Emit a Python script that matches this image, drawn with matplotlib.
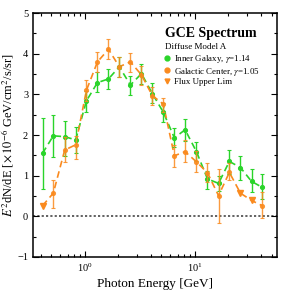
import matplotlib
matplotlib.use("Agg")
import matplotlib.pyplot as plt
import numpy as np
from matplotlib.lines import Line2D
from matplotlib.ticker import MultipleLocator

plt.rcParams["font.family"] = ["Liberation Serif", "DejaVu Serif"]
plt.rcParams["mathtext.fontset"] = "stix"

# photon energy bin centres [GeV]
energy = [0.415, 0.52, 0.66, 0.83, 1.04, 1.31, 1.65, 2.07, 2.61, 3.29, 4.13,
          5.2, 6.55, 8.2, 10.4, 13.1, 16.5, 20.7, 26.1, 32.9, 41.3]

# Inner Galaxy, gamma=1.14
ig_val = [1.55, 1.98, 1.96, 1.88, 2.84, 3.29, 3.38, 3.68, 3.23, 3.51, 3.02,
          2.56, 1.93, 2.13, 1.59, 0.92, 0.81, 1.35, 1.20, 0.86, 0.71]
ig_lo = [0.66, 1.45, 1.49, 1.56, 2.57, 3.05, 3.13, 3.43, 2.99, 3.25, 2.80,
         2.33, 1.70, 1.86, 1.37, 0.66, 0.62, 1.04, 0.89, 0.59, 0.43]
ig_hi = [2.42, 2.50, 2.35, 2.20, 3.09, 3.56, 3.62, 3.92, 3.46, 3.74, 3.29,
         2.80, 2.17, 2.39, 1.82, 1.12, 1.00, 1.64, 1.49, 1.16, 1.04]

# Galactic Center, gamma=1.05 (upper limits flagged)
gc_val = [0.26, 0.57, 1.63, 1.76, 3.10, 3.80, 4.11, 3.68, 3.80, 3.48, 2.97,
          2.76, 1.49, 1.59, 1.34, 1.07, 0.51, 1.08, 0.57, 0.39, 0.26]
gc_lo = [0.26, 0.21, 1.33, 1.41, 2.84, 3.56, 3.87, 3.43, 3.56, 3.23, 2.74,
         2.56, 1.22, 1.33, 1.08, 0.84, -0.17, 0.89, 0.57, 0.39, -0.04]
gc_hi = [0.26, 0.90, 1.96, 1.98, 3.36, 4.05, 4.36, 3.92, 4.03, 3.70, 3.19,
         2.92, 1.76, 1.88, 1.60, 1.31, 1.16, 1.30, 0.57, 0.39, 0.59]
gc_ul = [True, False, False, False, False, False, False, False, False, False, False,
         False, False, False, False, False, False, False, True, True, False]

GREEN = "#2ad42a"
ORANGE = "#fa8a1e"

e = np.array(energy)
ig = np.array(ig_val)
gc = np.array(gc_val)
ul = np.array(gc_ul)

fig = plt.figure(figsize=(2.82, 2.91), dpi=100)
ax = fig.add_axes([0.117, 0.117, 0.865, 0.838])

# dashed connecting lines
ax.plot(e, ig, ls=(0, (4, 2.5)), color=GREEN, lw=1.2, zorder=2)
ax.plot(e, gc, ls=(0, (4, 2.5)), color=ORANGE, lw=1.2, zorder=3)

# error bars
ax.errorbar(e, ig, yerr=[ig - np.array(ig_lo), np.array(ig_hi) - ig], fmt="o",
            ms=2.7, color=GREEN, ecolor=GREEN, elinewidth=1.0, capsize=1.6,
            capthick=0.8, zorder=4)
det = ~ul
ax.errorbar(e[det], gc[det], yerr=[gc[det] - np.array(gc_lo)[det], np.array(gc_hi)[det] - gc[det]],
            fmt="o", ms=2.7, color=ORANGE, ecolor=ORANGE, elinewidth=1.0, capsize=1.6,
            capthick=0.8, alpha=0.85, zorder=5)
ax.plot(e[ul], gc[ul], "v", ms=4.5, color=ORANGE, zorder=5)

ax.axhline(0, color="#555555", ls=(0, (1.2, 1.2)), lw=1.3, zorder=1)

ax.set_xscale("log")
ax.set_xlim(0.34, 56)
ax.set_ylim(-1, 5)
ax.yaxis.set_major_locator(MultipleLocator(1))
ax.yaxis.set_minor_locator(MultipleLocator(0.5))
ax.tick_params(which="both", direction="in", top=True, right=True, labelsize=7.5, width=0.8)
ax.tick_params(which="major", length=4)
ax.tick_params(which="minor", length=2.5)
for s in ax.spines.values():
    s.set_linewidth(1.1)

ax.set_xlabel("Photon Energy [GeV]", fontsize=9.5, labelpad=3)
ax.set_ylabel(r"$E^2$dN/dE [$\times\,10^{-6}$ GeV/cm$^2$/s/sr]", fontsize=9, labelpad=1)

ax.text(0.54, 0.915, "GCE Spectrum", transform=ax.transAxes, fontsize=10,
        fontweight="bold", va="center")
ax.text(0.54, 0.86, "Diffuse Model A", transform=ax.transAxes, fontsize=6.5, va="center")

handles = [
    Line2D([], [], marker="o", ls="none", color=GREEN, ms=3.5),
    Line2D([], [], marker="o", ls="none", color=ORANGE, ms=3.5),
    Line2D([], [], marker="v", ls="none", color=ORANGE, ms=3.5),
]
labels = [r"Inner Galaxy, $\gamma$=1.14", r"Galactic Center, $\gamma$=1.05", "Flux Upper Lim"]
ax.legend(handles, labels, loc="upper left", bbox_to_anchor=(0.54, 0.835), frameon=False,
          fontsize=6.4, handlelength=0.6, handletextpad=0.4, labelspacing=0.02,
          borderpad=0, borderaxespad=0)

fig.savefig("out.png", dpi=100)
